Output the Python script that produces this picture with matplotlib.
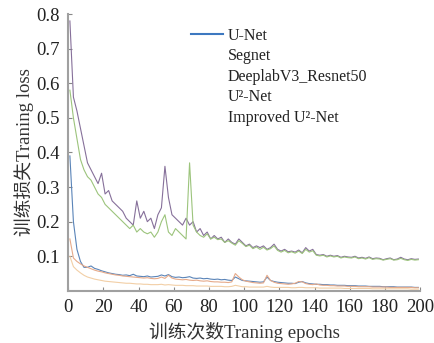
import numpy as np
import matplotlib
matplotlib.use("Agg")
import matplotlib.pyplot as plt

plt.rcParams['font.family'] = ['Liberation Serif', 'Noto Sans CJK SC']

# epochs sampled every 2 epochs
epochs = np.arange(1, 200, 2)

labels = ["U-Net", "Segnet", "DeeplabV3_Resnet50", "U\u00b2-Net", "Improved U\u00b2-Net"]
colors = ["#5a84b8", "#e6aa8a", "#f2cfa6", "#86709a", "#9cc47c"]

unet = [0.39, 0.20, 0.12, 0.085, 0.068, 0.068, 0.072, 0.065, 0.062, 0.058,
        0.055, 0.052, 0.050, 0.048, 0.047, 0.045, 0.046, 0.044, 0.048, 0.043,
        0.042, 0.041, 0.043, 0.040, 0.041, 0.042, 0.046, 0.043, 0.047, 0.041,
        0.039, 0.040, 0.038, 0.039, 0.041, 0.037, 0.036, 0.037, 0.035, 0.036,
        0.034, 0.033, 0.034, 0.032, 0.033, 0.031, 0.030, 0.040, 0.035, 0.030,
        0.029, 0.028, 0.027, 0.026, 0.025, 0.026, 0.040, 0.030, 0.027, 0.025,
        0.024, 0.023, 0.022, 0.022, 0.021, 0.025, 0.027, 0.023, 0.021, 0.020,
        0.019, 0.019, 0.018, 0.018, 0.017, 0.017, 0.016, 0.016, 0.016, 0.015,
        0.015, 0.015, 0.014, 0.014, 0.014, 0.013, 0.013, 0.013, 0.013, 0.012,
        0.012, 0.012, 0.012, 0.011, 0.011, 0.011, 0.011, 0.011, 0.010, 0.010]

segnet = [0.15, 0.095, 0.085, 0.078, 0.072, 0.068, 0.064, 0.060, 0.057, 0.055,
          0.052, 0.050, 0.048, 0.046, 0.045, 0.043, 0.042, 0.041, 0.040, 0.039,
          0.038, 0.037, 0.038, 0.036, 0.035, 0.036, 0.040, 0.036, 0.045, 0.037,
          0.034, 0.033, 0.032, 0.033, 0.031, 0.030, 0.031, 0.029, 0.028, 0.029,
          0.027, 0.026, 0.026, 0.025, 0.025, 0.024, 0.026, 0.050, 0.040, 0.032,
          0.028, 0.026, 0.024, 0.023, 0.022, 0.023, 0.045, 0.030, 0.025, 0.022,
          0.021, 0.020, 0.019, 0.020, 0.022, 0.027, 0.026, 0.021, 0.019, 0.018,
          0.020, 0.017, 0.016, 0.016, 0.015, 0.015, 0.014, 0.014, 0.014, 0.013,
          0.013, 0.013, 0.012, 0.012, 0.012, 0.012, 0.011, 0.011, 0.011, 0.011,
          0.011, 0.010, 0.010, 0.010, 0.010, 0.010, 0.010, 0.010, 0.009, 0.009]

deeplab = [0.10, 0.070, 0.060, 0.052, 0.045, 0.040, 0.037, 0.034, 0.032, 0.030,
           0.028, 0.027, 0.026, 0.025, 0.024, 0.023, 0.022, 0.022, 0.021, 0.020,
           0.020, 0.019, 0.019, 0.018, 0.018, 0.018, 0.019, 0.017, 0.018, 0.017,
           0.016, 0.016, 0.016, 0.015, 0.015, 0.015, 0.014, 0.014, 0.014, 0.014,
           0.013, 0.013, 0.013, 0.013, 0.012, 0.012, 0.013, 0.016, 0.014, 0.012,
           0.012, 0.011, 0.011, 0.011, 0.011, 0.011, 0.013, 0.011, 0.010, 0.010,
           0.010, 0.010, 0.010, 0.009, 0.009, 0.010, 0.010, 0.009, 0.009, 0.009,
           0.009, 0.008, 0.008, 0.008, 0.008, 0.008, 0.008, 0.008, 0.007, 0.007,
           0.007, 0.007, 0.007, 0.007, 0.007, 0.007, 0.006, 0.006, 0.006, 0.006,
           0.006, 0.006, 0.006, 0.006, 0.006, 0.006, 0.006, 0.005, 0.005, 0.005]

u2net = [0.78, 0.56, 0.52, 0.47, 0.42, 0.37, 0.35, 0.33, 0.31, 0.34,
         0.28, 0.29, 0.26, 0.25, 0.24, 0.23, 0.21, 0.20, 0.19, 0.26,
         0.21, 0.23, 0.20, 0.21, 0.18, 0.22, 0.24, 0.36, 0.27, 0.22,
         0.21, 0.20, 0.19, 0.21, 0.19, 0.20, 0.17, 0.18, 0.16, 0.17,
         0.15, 0.16, 0.15, 0.155, 0.14, 0.15, 0.14, 0.135, 0.15, 0.14,
         0.13, 0.135, 0.125, 0.13, 0.125, 0.13, 0.12, 0.125, 0.135, 0.12,
         0.115, 0.12, 0.113, 0.115, 0.112, 0.118, 0.11, 0.125, 0.115, 0.12,
         0.105, 0.103, 0.105, 0.10, 0.103, 0.10, 0.102, 0.097, 0.10, 0.098,
         0.097, 0.10, 0.095, 0.097, 0.094, 0.098, 0.093, 0.095, 0.094, 0.09,
         0.093, 0.095, 0.09, 0.092, 0.097, 0.092, 0.09, 0.093, 0.091, 0.092]

improved = [0.58, 0.50, 0.44, 0.38, 0.35, 0.33, 0.32, 0.30, 0.28, 0.27,
            0.25, 0.24, 0.23, 0.22, 0.21, 0.20, 0.19, 0.18, 0.19, 0.17,
            0.18, 0.17, 0.165, 0.17, 0.155, 0.17, 0.20, 0.22, 0.17, 0.16,
            0.18, 0.17, 0.16, 0.15, 0.37, 0.19, 0.17, 0.16, 0.155, 0.165,
            0.15, 0.155, 0.148, 0.15, 0.14, 0.145, 0.138, 0.132, 0.145, 0.137,
            0.128, 0.132, 0.122, 0.127, 0.12, 0.126, 0.118, 0.122, 0.13, 0.117,
            0.112, 0.117, 0.11, 0.113, 0.109, 0.115, 0.108, 0.12, 0.112, 0.116,
            0.103, 0.101, 0.103, 0.098, 0.101, 0.098, 0.1, 0.095, 0.098, 0.096,
            0.095, 0.098, 0.093, 0.095, 0.092, 0.096, 0.091, 0.093, 0.092, 0.089,
            0.091, 0.093, 0.089, 0.09, 0.094, 0.09, 0.088, 0.091, 0.089, 0.09]

series = [unet, segnet, deeplab, u2net, improved]

fig = plt.figure(figsize=(4.34, 3.43), dpi=100)
ax = fig.add_axes([0.157, 0.152, 0.811, 0.807])

for vals, lab, col in zip(series, labels, colors):
    ax.plot(epochs, vals, color=col, lw=0.8, label=lab)

ax.set_xlim(0, 200)
ax.set_ylim(0, 0.8)
ax.set_xticks(np.arange(0, 201, 20))
ax.set_yticks([0.1, 0.2, 0.3, 0.4, 0.5, 0.6, 0.7, 0.8])
ax.set_yticklabels(["0.1", "0.2", "0.3", "0.4", "0.5", "0.6", "0.7", "0.8"])
ax.tick_params(direction='in', length=3, color='#888888', labelsize=13.5, labelcolor='#222222', pad=6)

for s in ['top', 'right']:
    ax.spines[s].set_visible(False)
for s in ['left', 'bottom']:
    ax.spines[s].set_color('#a0a0a0')
    ax.spines[s].set_linewidth(1.5)

ax.set_xlabel("训练次数Traning epochs", fontsize=13.5, color='#333333', labelpad=4)
ax.set_ylabel("训练损失Traning loss", fontsize=13.5, color='#333333', labelpad=2)

leg = ax.legend(loc='upper left', bbox_to_anchor=(191 / 434, 1 - 28 / 343),
                bbox_transform=fig.transFigure, frameon=False, fontsize=11.5,
                handlelength=2.0, handletextpad=0.3, labelspacing=0.28,
                borderpad=0, borderaxespad=0)
for i, h in enumerate(leg.legend_handles):
    if i > 0:
        h.set_visible(False)
    else:
        h.set_linewidth(1.5)
        h.set_color("#3d78c0")
for t in leg.get_texts():
    t.set_color('#222222')

fig.savefig("out.png", dpi=100)
